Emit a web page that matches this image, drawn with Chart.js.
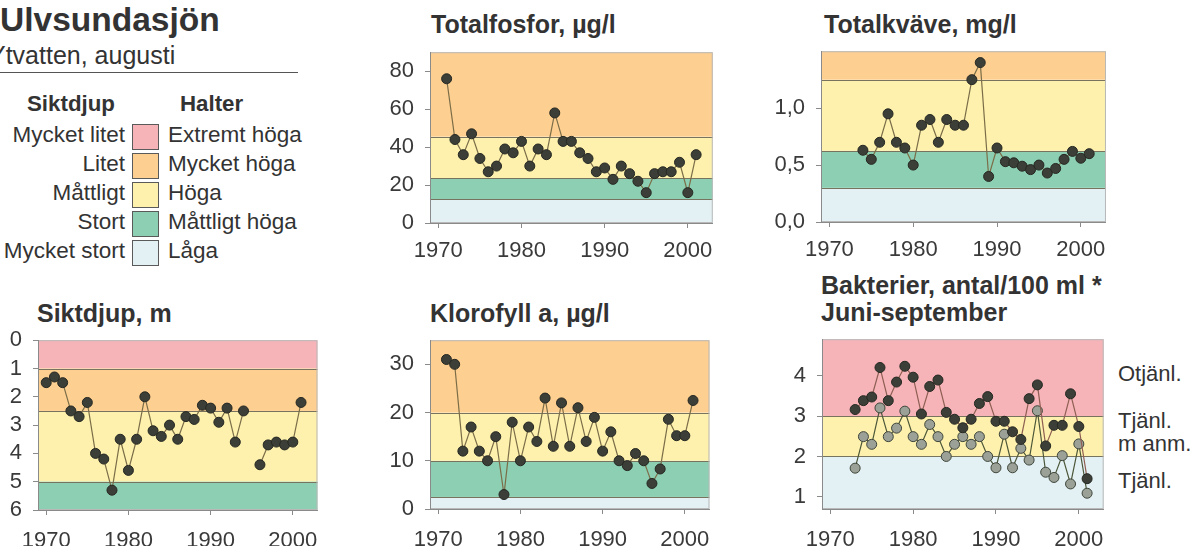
<!DOCTYPE html>
<html>
<head>
<meta charset="utf-8">
<script src="https://cdn.jsdelivr.net/npm/chart.js@4"></script>
<style>
  body { margin: 0; background: #fff; width: 1193px; height: 546px; overflow: hidden; position: relative;
         font-family: 'Liberation Sans', Arial, sans-serif; color: #333; }
  .t { position: absolute; white-space: nowrap; line-height: 1; }
  .b { font-weight: bold; }
  canvas { position: absolute; }
  .box { position: absolute; width: 25px; height: 24px; border: 1px solid #5a5a5a; }
</style>
</head>
<body>
<div class="t b" style="left:0;top:3px;font-size:33.5px">Ulvsundasjön</div>
<div class="t" style="left:-11px;top:43px;font-size:25px">Ytvatten, augusti</div>
<div style="position:absolute;left:0;top:72px;width:298px;height:1px;background:#555"></div>

<div id="legend"></div>

<div class="t b" style="left:431px;top:12px;font-size:25px">Totalfosfor, µg/l</div>
<div class="t b" style="left:824px;top:12px;font-size:25px">Totalkväve, mg/l</div>
<div class="t b" style="left:37px;top:301px;font-size:25px">Siktdjup, m</div>
<div class="t b" style="left:430px;top:301px;font-size:25px">Klorofyll a, µg/l</div>
<div class="t b" style="left:821px;top:273px;font-size:25px">Bakterier, antal/100 ml *</div>
<div class="t b" style="left:821px;top:300px;font-size:25px">Juni-september</div>

<div class="t" style="left:1118px;top:363px;font-size:22px">Otjänl.</div>
<div class="t" style="left:1118px;top:410px;font-size:22px">Tjänl.</div>
<div class="t" style="left:1118px;top:433px;font-size:22px">m anm.</div>
<div class="t" style="left:1118px;top:470px;font-size:22px">Tjänl.</div>

<canvas id="fosfor"></canvas>
<canvas id="kvave"></canvas>
<canvas id="sikt"></canvas>
<canvas id="klorofyll"></canvas>
<canvas id="bakterier"></canvas>

<script>
const PINK = '#f6b4b8', ORANGE = '#fdcf90', YELLOW = '#fdf1ad', GREEN = '#8ccfb2', BLUE = '#e3f1f5'

// legend
const siktClasses = ['Mycket litet', 'Litet', 'Måttligt', 'Stort', 'Mycket stort']
const halterClasses = ['Extremt höga', 'Mycket höga', 'Höga', 'Måttligt höga', 'Låga']
const classColors = [PINK, ORANGE, YELLOW, GREEN, BLUE]

// data
const yearTicks = [1970, 1980, 1990, 2000]

const fosforYears = [1971, 1972, 1973, 1974, 1975, 1976, 1977, 1978, 1979, 1980, 1981, 1982, 1983, 1984, 1985, 1986,
  1987, 1988, 1989, 1990, 1991, 1992, 1993, 1994, 1995, 1996, 1997, 1998, 1999, 2000, 2001]
const fosforValues = [76, 44, 36, 47, 34, 27, 30, 39, 37, 43, 30, 39, 36, 58, 43, 43,
  37, 34, 27, 29, 23, 30, 26, 22, 16, 26, 27, 27, 32, 16, 36]
const fosforTicks = [0, 20, 40, 60, 80]
const fosforLimits = [0, 12.5, 23.5, 45.5, 90]

const kvaveYears = [1974, 1975, 1976, 1977, 1978, 1979, 1980, 1981, 1982, 1983, 1984, 1985, 1986, 1987,
  1988, 1989, 1990, 1991, 1992, 1993, 1994, 1995, 1996, 1997, 1998, 1999, 2000, 2001]
const kvaveValues = [0.63, 0.55, 0.70, 0.95, 0.70, 0.65, 0.50, 0.85, 0.90, 0.70, 0.90, 0.85, 0.85, 1.25,
  1.40, 0.40, 0.65, 0.53, 0.52, 0.49, 0.46, 0.50, 0.43, 0.47, 0.55, 0.62, 0.56, 0.60]
const kvaveTicks = [0, 0.5, 1.0]
const kvaveLimits = [0, 0.3, 0.625, 1.25, 1.5]

const siktYears = [1970, 1971, 1972, 1973, 1974, 1975, 1976, 1977, 1978, 1979, 1980, 1981, 1982, 1983, 1984, 1985,
  1986, 1987, 1988, 1989, 1990, 1991, 1992, 1993, 1994, 1995, 1996, 1997, 1998, 1999, 2000, 2001]
const siktValues = [1.5, 1.3, 1.5, 2.5, 2.7, 2.2, 4.0, 4.2, 5.3, 3.5, 4.6, 3.5, 2.0, 3.2, 3.4, 3.0,
  3.5, 2.7, 2.8, 2.3, 2.4, 2.9, 2.4, 3.6, 2.5, null, 4.4, 3.7, 3.6, 3.7, 3.6, 2.2]
const siktTicks = [0, 1, 2, 3, 4, 5, 6]
const siktLimits = [0, 1, 2.5, 5, 6]

const klorofyllYears = [1971, 1972, 1973, 1974, 1975, 1976, 1977, 1978, 1979, 1980, 1981, 1982, 1983, 1984, 1985, 1986,
  1987, 1988, 1989, 1990, 1991, 1992, 1993, 1994, 1995, 1996, 1997, 1998, 1999, 2000, 2001]
const klorofyllValues = [31, 30, 12, 17, 12, 10, 15, 3, 18, 10, 17, 14, 23, 13, 22, 13,
  21, 14, 19, 12, 16, 10, 9, 11.5, 10, 5.3, 8.3, 18.6, 15.2, 15.2, 22.5]
const klorofyllTicks = [0, 10, 20, 30]
const klorofyllLimits = [0, 2.5, 10, 20, 35]

const bakterieYears = [1973, 1974, 1975, 1976, 1977, 1978, 1979, 1980, 1981, 1982, 1983, 1984, 1985, 1986, 1987,
  1988, 1989, 1990, 1991, 1992, 1993, 1994, 1995, 1996, 1997, 1998, 1999, 2000, 2001]
const bakterieHigh = [3.16, 3.38, 3.47, 4.20, 3.38, 3.84, 4.23, 3.96, 3.05, 3.73, 3.89, 3.09, 2.92, 2.71, 2.92,
  3.31, 3.48, 2.87, 2.87, 2.61, 2.42, 3.43, 3.77, 2.26, 2.77, 2.77, 3.55, 2.74, 1.45]
const bakterieLow = [1.71, 2.49, 2.30, 3.20, 2.49, 2.70, 3.12, 2.49, 2.30, 2.79, 2.49, 2.00, 2.30, 2.49, 2.30,
  2.49, 2.00, 1.72, 2.55, 1.72, 2.20, 1.91, 3.13, 1.61, 1.48, 2.02, 1.32, 2.31, 1.09]
const bakterieTicks = [1, 2, 3, 4]
const bakterieLimits = [0.7, 2, 3, 4.9]

// legend rows
const legend = document.getElementById('legend')
legend.innerHTML =
  '<div class="t b" style="left:27px;top:93px;font-size:22.3px">Siktdjup</div>' +
  '<div class="t b" style="left:180px;top:93px;font-size:22.3px">Halter</div>' +
  siktClasses.map((s, i) =>
    `<div class="t" style="left:0;width:125px;text-align:right;top:${124 + i * 29}px;font-size:22.5px">${s}</div>` +
    `<div class="box" style="left:132px;top:${124 + i * 29}px;background:${classColors[i]}"></div>` +
    `<div class="t" style="left:168px;top:${124 + i * 29}px;font-size:22.5px">${halterClasses[i]}</div>`
  ).join('')

// coloured class bands behind the series
const bandPlugin = {
  id: 'bands',
  beforeDraw (chart, args, opts) {
    const { ctx, chartArea: a } = chart
    const y = chart.scales.y
    ctx.save()
    for (let i = 0; i < opts.limits.length - 1; i++) {
      const y1 = y.getPixelForValue(opts.limits[i])
      const y2 = y.getPixelForValue(opts.limits[i + 1])
      ctx.fillStyle = opts.colors[i]
      ctx.fillRect(a.left, Math.min(y1, y2), a.right - a.left, Math.abs(y2 - y1))
    }
    ctx.strokeStyle = '#77735f'
    ctx.lineWidth = 1
    opts.limits.slice(1, -1).forEach(v => {
      const p = Math.round(y.getPixelForValue(v)) + 0.5
      ctx.beginPath()
      ctx.moveTo(a.left, p)
      ctx.lineTo(a.right, p)
      ctx.stroke()
    })
    ctx.strokeStyle = '#b8b8b8'
    ctx.strokeRect(a.left + 0.5, a.top + 0.5, a.right - a.left - 1, a.bottom - a.top - 1)
    ctx.restore()
  }
}

Chart.defaults.font.family = "'Liberation Sans', Arial, sans-serif"
Chart.defaults.color = '#3a3a3a'

function series (years, values, fill, border, line) {
  return {
    data: years.map((yr, i) => ({ x: yr, y: values[i] })),
    borderColor: line,
    borderWidth: 1.2,
    pointRadius: 5,
    pointBackgroundColor: fill,
    pointBorderColor: border,
    pointBorderWidth: 1,
    spanGaps: false
  }
}

// plot area given as left, top, right, bottom in page pixels
function build (id, area, datasets, yOpts, limits, colors) {
  const [L, T, R, B] = area
  const padTop = 15, padRight = 8, yW = 60, xH = 45
  const cv = document.getElementById(id)
  cv.width = R - L + yW + padRight
  cv.height = B - T + padTop + xH
  cv.style.left = (L - yW) + 'px'
  cv.style.top = (T - padTop) + 'px'
  const axisGrid = { drawOnChartArea: false, drawTicks: true, tickLength: 5, color: '#8a8a8a' }
  return new Chart(cv.getContext('2d'), {
    type: 'line',
    data: { datasets: datasets },
    options: {
      responsive: false,
      animation: false,
      devicePixelRatio: 1,
      layout: { padding: { top: padTop, right: padRight, left: 0, bottom: 0 } },
      scales: {
        x: {
          type: 'linear',
          min: 1969,
          max: 2003,
          grid: axisGrid,
          border: { display: true, color: '#8a8a8a' },
          ticks: { font: { size: 22 }, padding: yOpts.xPad, autoSkip: false, maxRotation: 0, callback: v => String(v) },
          afterBuildTicks: s => { s.ticks = yearTicks.map(v => ({ value: v })) },
          afterFit: s => { s.height = xH }
        },
        y: {
          type: 'linear',
          min: yOpts.min,
          max: yOpts.max,
          reverse: !!yOpts.reverse,
          grid: axisGrid,
          border: { display: true, color: '#8a8a8a' },
          ticks: { font: { size: 22 }, padding: 11, autoSkip: false, callback: yOpts.format || (v => String(v)) },
          afterBuildTicks: s => { s.ticks = yOpts.ticks.map(v => ({ value: v })) },
          afterFit: s => { s.width = yW }
        }
      },
      plugins: {
        legend: { display: false },
        tooltip: { enabled: false },
        bands: { limits: limits, colors: colors }
      }
    },
    plugins: [bandPlugin]
  })
}

const DOT = '#3c3f38', DOT_EDGE = '#262822', LINE = '#7b6d48'

build('fosfor', [430, 43, 715, 223],
  [series(fosforYears, fosforValues, DOT, DOT_EDGE, LINE)],
  { min: 0, max: 90, ticks: fosforTicks, xPad: 10 }, fosforLimits, [BLUE, GREEN, YELLOW, ORANGE])

build('kvave', [821, 42, 1108, 222],
  [series(kvaveYears, kvaveValues, DOT, DOT_EDGE, LINE)],
  { min: 0, max: 1.5, ticks: kvaveTicks, xPad: 10, format: v => v.toFixed(1).replace('.', ',') },
  kvaveLimits, [BLUE, GREEN, YELLOW, ORANGE])

build('sikt', [38, 331, 323, 510],
  [series(siktYears, siktValues, DOT, DOT_EDGE, LINE)],
  { min: 0, max: 6, reverse: true, ticks: siktTicks, xPad: 13 }, siktLimits, [PINK, ORANGE, YELLOW, GREEN])

build('klorofyll', [430, 331, 715, 509],
  [series(klorofyllYears, klorofyllValues, DOT, DOT_EDGE, LINE)],
  { min: 0, max: 35, ticks: klorofyllTicks, xPad: 13 }, klorofyllLimits, [BLUE, GREEN, YELLOW, ORANGE])

build('bakterier', [822, 330, 1109, 509],
  [series(bakterieYears, bakterieHigh, DOT, DOT_EDGE, '#8e5e52'),
   series(bakterieYears, bakterieLow, '#9ca198', '#3f463a', '#4c5638')],
  { min: 0.7, max: 4.9, ticks: bakterieTicks, xPad: 13 }, bakterieLimits, [BLUE, YELLOW, PINK])
</script>
</body>
</html>
